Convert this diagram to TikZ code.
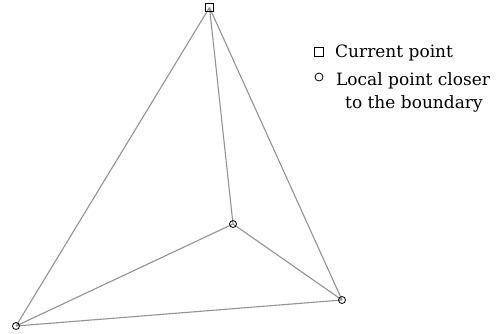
\documentclass[tikz,border=0pt]{standalone}
\usepackage{fontspec}
\setmainfont{DejaVu Serif}
\begin{document}
\begin{tikzpicture}[x=1pt,y=-1pt,
  edge/.style={draw=gray!85, line width=1.1pt},
  sq/.style={draw=black, line width=0.8pt, minimum size=8pt, inner sep=0pt, rectangle},
  pt/.style={draw=black, line width=0.8pt, minimum size=7pt, inner sep=0pt, circle},
  lbl/.style={font=\fontsize{17}{20}\selectfont, anchor=base west, inner sep=0pt}]
\useasboundingbox (0,0) rectangle (500,333);
\coordinate (A) at (209.5,7.5);
\coordinate (M) at (233,224);
\coordinate (L) at (16,326);
\coordinate (R) at (342,300);
\draw[edge] (A) -- (L);
\draw[edge] (A) -- (R);
\draw[edge] (A) -- (M);
\draw[edge] (M) -- (L);
\draw[edge] (M) -- (R);
\draw[edge] (L) -- (R);
\node[sq] (nA) at (A) {};
\node[pt] (nM) at (M) {};
\node[pt] (nL) at (L) {};
\node[pt] (nR) at (R) {};
\node[sq, minimum size=9pt] (lsq) at (318.5,52) {};
\node[pt, minimum size=8pt] (lci) at (319,77) {};
\node[lbl] (t1) at (335,57) {Current point};
\node[lbl] (t2) at (336,85) {Local point closer};
\node[lbl] (t3) at (345,108) {to the boundary};
\end{tikzpicture}
\end{document}
